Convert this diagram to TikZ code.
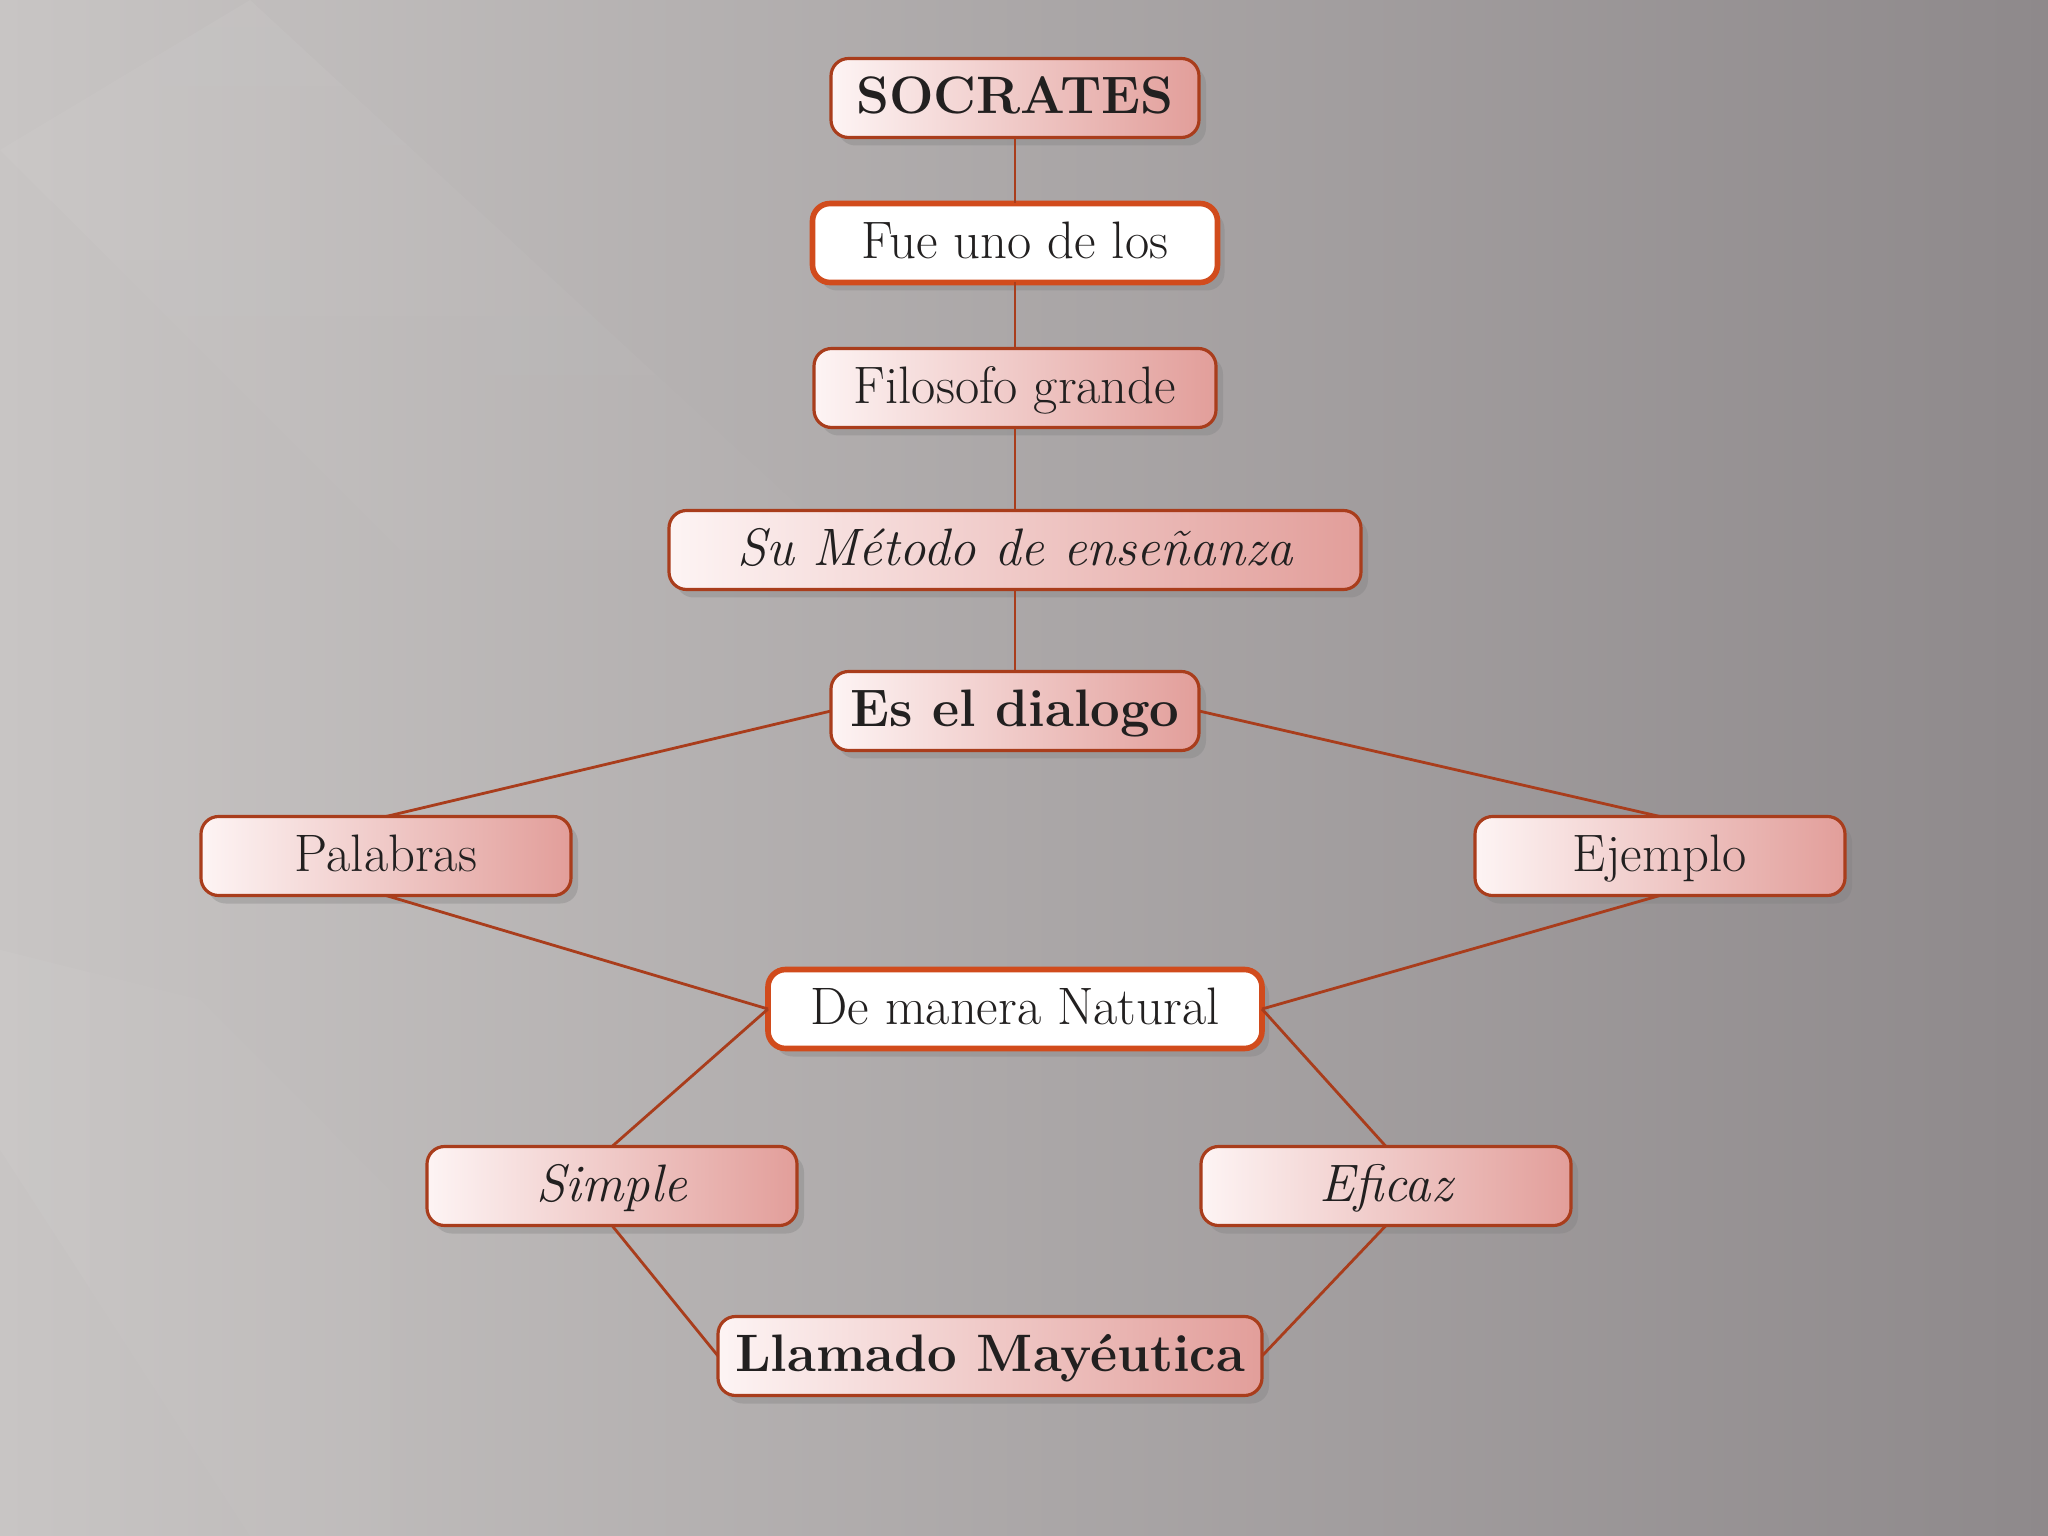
\documentclass[tikz,border=0pt]{standalone}
\usetikzlibrary{positioning,shadows,fadings}
\definecolor{bgLight}{HTML}{C8C5C4}
\definecolor{bgDark}{HTML}{8E898B}
\definecolor{boxLeft}{HTML}{FDF4F4}
\definecolor{boxRight}{HTML}{E29E9A}
\definecolor{rim}{HTML}{A93D1C}
\definecolor{keyrim}{HTML}{D14B1C}
\definecolor{ink}{HTML}{222020}
\tikzset{node distance=0.66cm, auto,
  base/.style={rounded corners=5pt, minimum height=0.79cm, inner sep=2pt, outer sep=0pt,
    text height=12pt, text depth=3pt,
    text=ink, font=\fontsize{15}{17}\selectfont,
    drop shadow={shadow xshift=0.07cm, shadow yshift=-0.08cm, opacity=0.35}},
  box/.style={base, draw=rim, line width=0.9pt, left color=boxLeft, right color=boxRight},
  keybox/.style={base, draw=keyrim, line width=1.6pt, fill=white},
  link/.style={draw=rim, line width=0.8pt}}

\begin{document}
\begin{tikzpicture}
\useasboundingbox (0,0) rectangle (20.48,-15.36);
% background
\shade[left color=bgLight, right color=bgDark] (0,0) rectangle (20.48,-15.36);
\fill[white, opacity=0.05, path fading=south] (0,-1.5) -- (2.5,0) -- (9,-6) -- (6,-7.5) -- cycle;
\fill[white, opacity=0.04, path fading=east] (0,-9.5) -- (2,-10) -- (6,-14) -- (4,-15.36) -- (2.5,-15.36) -- (0,-11.5) -- cycle;

% chain from the top
\node[box, minimum width=3.68cm, font=\fontsize{15}{17}\selectfont\bfseries] (socrates) at (10.15,-0.98) {SOCRATES};
\node[keybox, minimum width=4.05cm, below=of socrates] (fue) {Fue uno de los};
\node[box, minimum width=4.02cm, below=of fue] (filosofo) {Filosofo grande};
\node[box, minimum width=6.92cm, below=0.83cm of filosofo] (metodo) {\itshape Su Método de enseñanza};
\node[box, minimum width=3.68cm, below=0.82cm of metodo, font=\fontsize{15}{17}\selectfont\bfseries] (dialogo) {Es el dialogo};

% the two ways
\node[box, minimum width=3.70cm] (palabras) at (3.86,-8.56) {Palabras};
\node[box, minimum width=3.70cm] (ejemplo) at (16.60,-8.56) {Ejemplo};
\node[keybox, minimum width=4.94cm] (natural) at (10.15,-10.09) {De manera Natural};
\node[box, minimum width=3.70cm] (simple) at (6.12,-11.86) {\itshape Simple};
\node[box, minimum width=3.70cm] (eficaz) at (13.86,-11.86) {\itshape Eficaz};
\node[box, minimum width=5.44cm, font=\fontsize{15}{17}\selectfont\bfseries] (llamado) at (9.90,-13.56) {Llamado Mayéutica};

\draw[link] (socrates) -- (fue);
\draw[link] (fue) -- (filosofo);
\draw[link] (filosofo) -- (metodo);
\draw[link] (metodo) -- (dialogo);
\draw[link] (dialogo.west) -- (palabras.north);
\draw[link] (dialogo.east) -- (ejemplo.north);
\draw[link] (palabras.south) -- (natural.west);
\draw[link] (ejemplo.south) -- (natural.east);
\draw[link] (natural.west) -- (simple.north);
\draw[link] (natural.east) -- (eficaz.north);
\draw[link] (simple.south) -- (llamado.west);
\draw[link] (eficaz.south) -- (llamado.east);
\end{tikzpicture}
\end{document}
